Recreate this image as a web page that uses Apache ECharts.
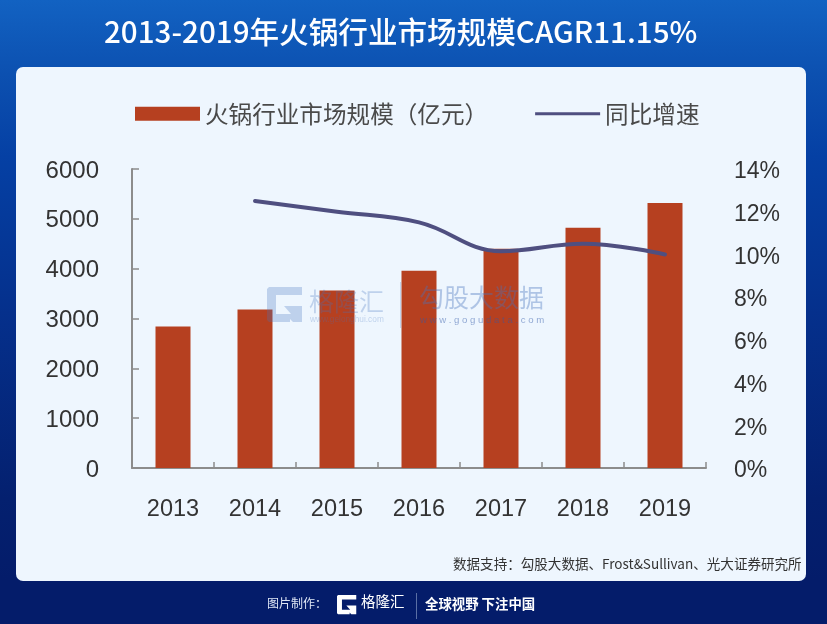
<!DOCTYPE html>
<html>
<head>
<meta charset="utf-8">
<script src="https://cdn.jsdelivr.net/npm/echarts@6/dist/echarts.min.js"></script>
<style>
  html, body { margin: 0; padding: 0; }
  body { width: 827px; height: 624px; overflow: hidden; }
  #chart { width: 827px; height: 624px; }
</style>
</head>
<body>
<div id="chart"></div>
<script>
const FONT = '"Noto Sans CJK SC", sans-serif';
const AXIS_FONT = '"Liberation Sans", sans-serif';
const LOGO_POINTS = [[2, 0], [35, 0], [35, 8], [9, 8], [9, 27], [24, 27], [17, 19], [35, 19], [35, 35], [26, 35], [23, 32], [23, 35], [2, 35], [0, 33], [0, 2]];

const years = ["2013", "2014", "2015", "2016", "2017", "2018", "2019"];
const marketSize = [2840, 3180, 3560, 3960, 4400, 4820, 5320];
const growth = [null, 12.5, 12.0, 11.5, 10.15, 10.5, 10.0];
const leftTicks = [0, 6000, 1000];
const rightTicks = [0, 14, 2];

const chart = echarts.init(document.getElementById("chart"));

chart.setOption({
  animation: false,
  backgroundColor: {
    type: "linear", x: 0, y: 0, x2: 0, y2: 1,
    colorStops: [
      { offset: 0, color: "#1262c2" },
      { offset: 0.12, color: "#0c50b0" },
      { offset: 0.25, color: "#0540a4" },
      { offset: 0.5, color: "#05308c" },
      { offset: 0.8, color: "#04206f" },
      { offset: 0.93, color: "#041c6a" },
      { offset: 1, color: "#041c6a" }
    ]
  },
  graphic: [
    { type: "rect", z: -1, shape: { x: 16, y: 67, width: 790, height: 514, r: 7 }, style: { fill: "#eef6fe" } },
    { type: "text", left: 104, top: 17, style: { text: "2013-2019年火锅行业市场规模CAGR11.15%", fill: "#fff", font: '500 29.6px ' + FONT } },
    { type: "text", left: 453, top: 557, style: { text: "数据支持：勾股大数据、Frost&Sullivan、光大证券研究所", fill: "#333", font: '13.55px ' + FONT } },
    // watermark
    { type: "polygon", z: 20, x: 267, y: 287, shape: { points: LOGO_POINTS }, style: { fill: "rgba(70,115,190,0.28)" } },
    { type: "text", z: 20, left: 309, top: 289, style: { text: "格隆汇", fill: "rgba(70,115,190,0.28)", font: '25px ' + FONT } },
    { type: "text", z: 20, left: 310, top: 316, style: { text: "www.gelonghui.com", fill: "rgba(70,115,190,0.28)", font: '8.3px ' + AXIS_FONT } },
    { type: "rect", z: 20, shape: { x: 400, y: 282, width: 1, height: 46 }, style: { fill: "rgba(70,115,190,0.25)" } },
    { type: "text", z: 20, left: 419, top: 285, style: { text: "勾股大数据", fill: "rgba(70,115,190,0.38)", font: '25px ' + FONT } },
    { type: "text", z: 20, left: 420, top: 315, style: { text: "w w w . g o g u d a t a . c o m", fill: "rgba(50,90,170,0.5)", font: '9.6px ' + AXIS_FONT } },
    // footer
    { type: "text", left: 267, top: 597, style: { text: "图片制作：", fill: "#dfe6f5", font: '12px ' + FONT } },
    { type: "polygon", x: 337, y: 595, scaleX: 0.55, scaleY: 0.55, shape: { points: LOGO_POINTS }, style: { fill: "#fff" } },
    { type: "text", left: 361, top: 594, style: { text: "格隆汇", fill: "#fff", font: '14.5px ' + FONT } },
    { type: "rect", shape: { x: 416, y: 593, width: 1, height: 26 }, style: { fill: "#5a6fa5" } },
    { type: "text", left: 425, top: 597, style: { text: "全球视野 下注中国", fill: "#fff", font: 'bold 13.4px ' + FONT } }
  ],
  legend: {
    top: 97,
    left: 130,
    itemGap: 47,
    itemWidth: 65,
    itemHeight: 14,
    textStyle: { fontFamily: FONT, fontSize: 23.6, color: "#4a4a4a" },
    data: [
      { name: "火锅行业市场规模（亿元）", icon: "rect" },
      { name: "同比增速", icon: "path://M0 0H65V3H0Z" }
    ]
  },
  grid: { left: 132, right: 121, top: 169, bottom: 156 },
  xAxis: {
    type: "category",
    data: years,
    axisLine: { lineStyle: { color: "#8c8c8c", width: 2 } },
    axisTick: { show: true, inside: true, length: 6, lineStyle: { color: "#8c8c8c", width: 1.5 } },
    axisLabel: { color: "#333", fontFamily: AXIS_FONT, fontSize: 23.5, margin: 30 }
  },
  yAxis: [
    {
      type: "value",
      min: leftTicks[0], max: leftTicks[1], interval: leftTicks[2],
      splitLine: { show: false },
      axisLine: { show: true, lineStyle: { color: "#8c8c8c", width: 2 } },
      axisTick: { show: true, inside: true, length: 7, lineStyle: { color: "#8c8c8c", width: 1.5 } },
      axisLabel: {
        color: "#333", fontFamily: AXIS_FONT, fontSize: 24, margin: 33,
        verticalAlign: "top", lineHeight: 4, formatter: (value) => String(value)
      }
    },
    {
      type: "value",
      min: rightTicks[0], max: rightTicks[1], interval: rightTicks[2],
      splitLine: { show: false },
      axisLine: { show: false },
      axisTick: { show: false },
      axisLabel: {
        color: "#333", fontFamily: AXIS_FONT, fontSize: 23, margin: 28,
        verticalAlign: "top", lineHeight: 6, formatter: "{value}%"
      }
    }
  ],
  series: [
    {
      name: "火锅行业市场规模（亿元）",
      type: "bar",
      data: marketSize,
      barWidth: 35,
      itemStyle: { color: "#b64020" }
    },
    {
      name: "同比增速",
      type: "line",
      yAxisIndex: 1,
      smooth: 0.4,
      showSymbol: false,
      data: growth,
      itemStyle: { color: "#4f4f80" },
      lineStyle: { color: "#4f4f80", width: 4, cap: "round" }
    }
  ]
});
</script>
</body>
</html>
